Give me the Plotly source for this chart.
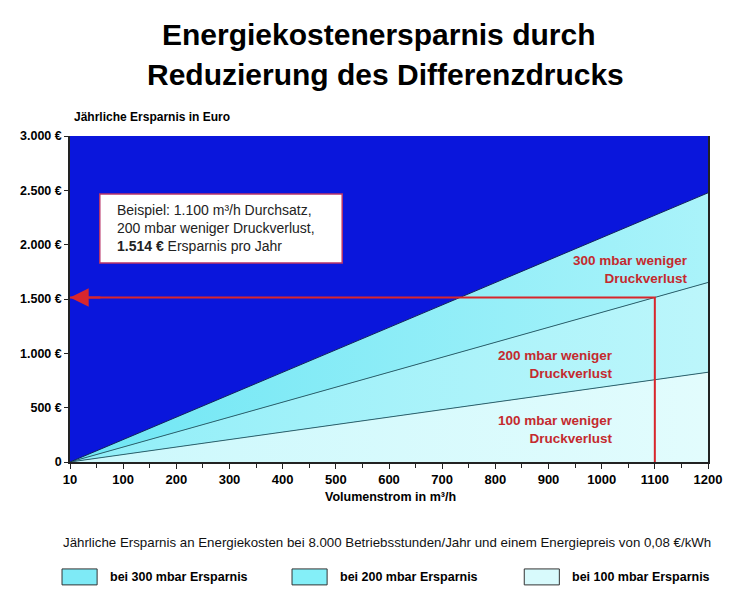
import plotly.graph_objects as go

# data
volumenstrom = [0, 1200]
ersparnis_100 = [0, 826]
ersparnis_200 = [0, 1652]
ersparnis_300 = [0, 2477]

beispiel_x = [1100, 1100, 0]
beispiel_y = [0, 1514, 1514]

x_tickvals = [0, 100, 200, 300, 400, 500, 600, 700, 800, 900, 1000, 1100, 1200]
x_ticktext = ['10', '100', '200', '300', '400', '500', '600', '700', '800',
              '900', '1000', '1100', '1200']
y_tickvals = [0, 500, 1000, 1500, 2000, 2500, 3000]
y_ticktext = ['0', '500 €', '1.000 €', '1.500 €', '2.000 €', '2.500 €', '3.000 €']

legend_labels = ['bei 300 mbar Ersparnis', 'bei 200 mbar Ersparnis', 'bei 100 mbar Ersparnis']

BLUE = '#0a16dc'
C300 = ('#6ee6f4', '#aaf3fa')
C200 = ('#90eef8', '#bcf6fb')
C100 = ('#cbf8fc', '#e2fcfd')
LEGEND_COLORS = ['#7eeaf6', '#84eff8', '#d8fafc']
RED = '#d8262c'
LABEL_RED = '#c42a2e'
FONT = 'Liberation Sans, Arial, sans-serif'


def grad(pair):
    return dict(type='horizontal', colorscale=[[0, pair[0]], [1, pair[1]]])


fig = go.Figure()
fig.add_trace(go.Scatter(x=volumenstrom, y=ersparnis_100, mode='lines', fill='tozeroy',
                         fillcolor=C100[0], fillgradient=grad(C100),
                         line=dict(color='#2d6469', width=1)))
fig.add_trace(go.Scatter(x=volumenstrom, y=ersparnis_200, mode='lines', fill='tonexty',
                         fillcolor=C200[0], fillgradient=grad(C200),
                         line=dict(color='#2d6469', width=1)))
fig.add_trace(go.Scatter(x=volumenstrom, y=ersparnis_300, mode='lines', fill='tonexty',
                         fillcolor=C300[0], fillgradient=grad(C300),
                         line=dict(color='#10205a', width=1)))
fig.add_trace(go.Scatter(x=beispiel_x, y=beispiel_y, mode='lines',
                         line=dict(color=RED, width=2)))

# arrow head at the y axis
fig.add_annotation(x=beispiel_x[-1], y=beispiel_y[-1], ax=60, ay=beispiel_y[-1],
                   xref='x', yref='y', axref='x', ayref='y', text='',
                   showarrow=True, arrowhead=2, arrowsize=1.7, arrowwidth=2.2,
                   arrowcolor=RED)

# example box
fig.add_shape(type='rect', xref='x', yref='y', x0=56, x1=512, y0=1831, y1=2467,
              fillcolor='white', line=dict(color='#b8346a', width=1.5), layer='above')
fig.add_annotation(x=85, y=2150, xref='x', yref='y', xanchor='left', yanchor='middle',
                   text='Beispiel: 1.100 m³/h Durchsatz,<br>200 mbar weniger Druckverlust,'
                        '<br><b>1.514 €</b> Ersparnis pro Jahr',
                   showarrow=False, align='left',
                   font=dict(family=FONT, size=14, color='#222'))

# red labels in the areas
for txt, xx, yy in [('300 mbar weniger<br>Druckverlust', 1166, 1770),
                    ('200 mbar weniger<br>Druckverlust', 1025, 900),
                    ('100 mbar weniger<br>Druckverlust', 1025, 300)]:
    fig.add_annotation(x=xx, y=yy, xref='x', yref='y', xanchor='right', yanchor='middle',
                       text='<b>' + txt + '</b>', showarrow=False, align='right',
                       font=dict(family=FONT, size=13.5, color=LABEL_RED))

# title (two lines placed separately to get the wide line spacing)
for txt, xx, yy in [('Energiekostenersparnis durch', 0.483, 1.31),
                    ('Reduzierung des Differenzdrucks', 0.494, 1.188)]:
    fig.add_annotation(x=xx, y=yy, xref='paper', yref='paper', xanchor='center',
                       yanchor='middle', text='<b>' + txt + '</b>', showarrow=False,
                       font=dict(family=FONT, size=30, color='black'))

# axis titles and footnote
fig.add_annotation(x=0.003, y=1.058, xref='paper', yref='paper', xanchor='left', yanchor='middle',
                   text='<b>Jährliche Ersparnis in Euro</b>', showarrow=False,
                   font=dict(family=FONT, size=12, color='black'))
fig.add_annotation(x=0.503, y=-0.107, xref='paper', yref='paper', xanchor='center', yanchor='middle',
                   text='<b>Volumenstrom in m³/h</b>', showarrow=False,
                   font=dict(family=FONT, size=12.5, color='black'))
fig.add_annotation(x=0.497, y=-0.248, xref='paper', yref='paper', xanchor='center', yanchor='middle',
                   text='Jährliche Ersparnis an Energiekosten bei 8.000 Betriebsstunden/Jahr '
                        'und einem Energiepreis von 0,08 €/kWh',
                   showarrow=False, font=dict(family=FONT, size=13.3, color='#111'))

# legend built by hand
box_x = [-0.0125, 0.348, 0.712]
for lab, col, bx in zip(legend_labels, LEGEND_COLORS, box_x):
    fig.add_shape(type='rect', xref='paper', yref='paper', x0=bx, x1=bx + 0.055,
                  y0=-0.377, y1=-0.328, fillcolor=col, line=dict(color='#333', width=1))
    fig.add_annotation(x=bx + 0.072, y=-0.353, xref='paper', yref='paper', xanchor='left',
                       yanchor='middle', text='<b>' + lab + '</b>', showarrow=False,
                       font=dict(family=FONT, size=12.5, color='black'))

# the page body has an 8px margin, so the figure is shrunk by that much
fig.update_layout(
    width=735, height=592,
    margin=dict(l=62, r=35, t=128, b=138, autoexpand=False),
    paper_bgcolor='white',
    plot_bgcolor=BLUE,
    showlegend=False,
)
fig.update_xaxes(range=[0, 1200], tickvals=x_tickvals, ticktext=x_ticktext,
                 showgrid=False, zeroline=False, showline=True, linecolor='#222', linewidth=1.5,
                 ticks='outside', ticklen=5, tickcolor='#222',
                 minor=dict(ticks='outside', ticklen=4, dtick=50, tick0=0, tickcolor='#222'),
                 tickfont=dict(family=FONT, size=13, color='black', weight='bold'))
fig.update_yaxes(range=[0, 3000], tickvals=y_tickvals, ticktext=y_ticktext,
                 showgrid=False, zeroline=False, showline=True, linecolor='#222', linewidth=1.5,
                 mirror=True, ticks='outside', ticklen=4, tickcolor='#222',
                 tickfont=dict(family=FONT, size=12.5, color='black', weight='bold'))

fig.write_html("out.html")
